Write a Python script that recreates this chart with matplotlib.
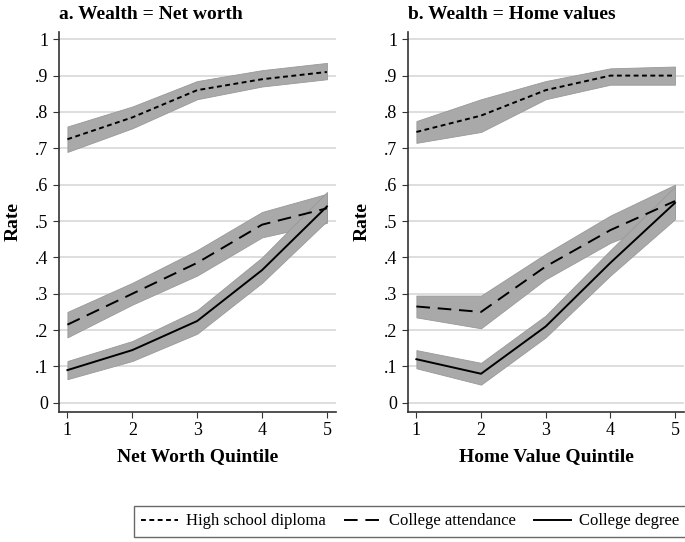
import matplotlib
matplotlib.use("Agg")
import matplotlib.pyplot as plt
from matplotlib.lines import Line2D

plt.rcParams['font.family'] = ['Liberation Serif', 'DejaVu Serif']

quintiles = [1, 2, 3, 4, 5]

# panel a: net worth
nw_hs = [0.725, 0.785, 0.86, 0.89, 0.91]
nw_hs_lo = [0.69, 0.755, 0.835, 0.87, 0.89]
nw_hs_hi = [0.76, 0.815, 0.885, 0.915, 0.935]
nw_att = [0.215, 0.30, 0.385, 0.49, 0.535]
nw_att_lo = [0.18, 0.27, 0.35, 0.455, 0.495]
nw_att_hi = [0.25, 0.33, 0.42, 0.525, 0.575]
nw_deg = [0.09, 0.145, 0.225, 0.365, 0.54]
nw_deg_lo = [0.065, 0.115, 0.19, 0.33, 0.50]
nw_deg_hi = [0.115, 0.17, 0.255, 0.40, 0.58]

# panel b: home values
hv_hs = [0.745, 0.79, 0.86, 0.90, 0.90]
hv_hs_lo = [0.715, 0.745, 0.835, 0.875, 0.875]
hv_hs_hi = [0.775, 0.835, 0.885, 0.92, 0.925]
hv_att = [0.265, 0.25, 0.375, 0.475, 0.555]
hv_att_lo = [0.235, 0.205, 0.34, 0.44, 0.51]
hv_att_hi = [0.295, 0.295, 0.41, 0.515, 0.60]
hv_deg = [0.12, 0.08, 0.21, 0.385, 0.55]
hv_deg_lo = [0.095, 0.05, 0.18, 0.35, 0.505]
hv_deg_hi = [0.145, 0.11, 0.24, 0.42, 0.595]

yticks = [0, 0.1, 0.2, 0.3, 0.4, 0.5, 0.6, 0.7, 0.8, 0.9, 1.0]
ylabels = ['0', '.1', '.2', '.3', '.4', '.5', '.6', '.7', '.8', '.9', '1']

hs_style = (0, (2.5, 1.8))
att_style = (0, (7, 4))

def draw_panel(ax, title, xlabel, series):
    for lo, hi in [s[2:] for s in series]:
        ax.fill_between(quintiles, lo, hi, color='#a9a9a9', edgecolor='#999999', linewidth=0.6, zorder=2)
    for mid, ls, lo, hi in series:
        ax.plot(quintiles, mid, color='black', linestyle=ls, linewidth=1.4, zorder=3)
    ax.set_xlim(0.87, 5.14)
    ax.set_ylim(-0.025, 1.02)
    ax.set_yticks(yticks)
    ax.set_yticklabels(ylabels)
    ax.set_xticks(quintiles)
    ax.tick_params(labelsize=13, color='#333333', length=4)
    ax.yaxis.grid(True, color='#d8d8d8', linewidth=1.2, zorder=0)
    ax.set_axisbelow(True)
    for sp in ['top', 'right']:
        ax.spines[sp].set_visible(False)
    for sp in ['left', 'bottom']:
        ax.spines[sp].set_color('#333333')
        ax.spines[sp].set_linewidth(1.2)
    ax.set_title(title, loc='left', fontsize=14, fontweight='bold', pad=9)
    ax.set_xlabel(xlabel, fontsize=14, fontweight='bold', labelpad=6)
    ax.set_ylabel('Rate', fontsize=14, fontweight='bold', labelpad=10)

fig = plt.figure(figsize=(6.85, 5.42), dpi=100)
ax1 = fig.add_axes([0.0861, 0.240, 0.4044, 0.701])
ax2 = fig.add_axes([0.5956, 0.240, 0.4030, 0.701])

draw_panel(ax1, 'a. Wealth = Net worth', 'Net Worth Quintile',
           [(nw_hs, hs_style, nw_hs_lo, nw_hs_hi),
            (nw_att, att_style, nw_att_lo, nw_att_hi),
            (nw_deg, '-', nw_deg_lo, nw_deg_hi)])
draw_panel(ax2, 'b. Wealth = Home values', 'Home Value Quintile',
           [(hv_hs, hs_style, hv_hs_lo, hv_hs_hi),
            (hv_att, att_style, hv_att_lo, hv_att_hi),
            (hv_deg, '-', hv_deg_lo, hv_deg_hi)])

handles = [Line2D([], [], color='black', linestyle=hs_style, linewidth=1.4),
           Line2D([], [], color='black', linestyle=att_style, linewidth=1.4),
           Line2D([], [], color='black', linestyle='-', linewidth=1.4)]
leg = fig.legend(handles, ['High school diploma', 'College attendance', 'College degree'],
                 loc='center', bbox_to_anchor=(0.599, 0.038), ncol=3, fontsize=12,
                 frameon=True, fancybox=False, edgecolor='#444444', handlelength=2.2,
                 columnspacing=1.1, handletextpad=0.5, borderpad=0.45)
leg.get_frame().set_linewidth(1.0)

fig.savefig('out.png', dpi=100)
